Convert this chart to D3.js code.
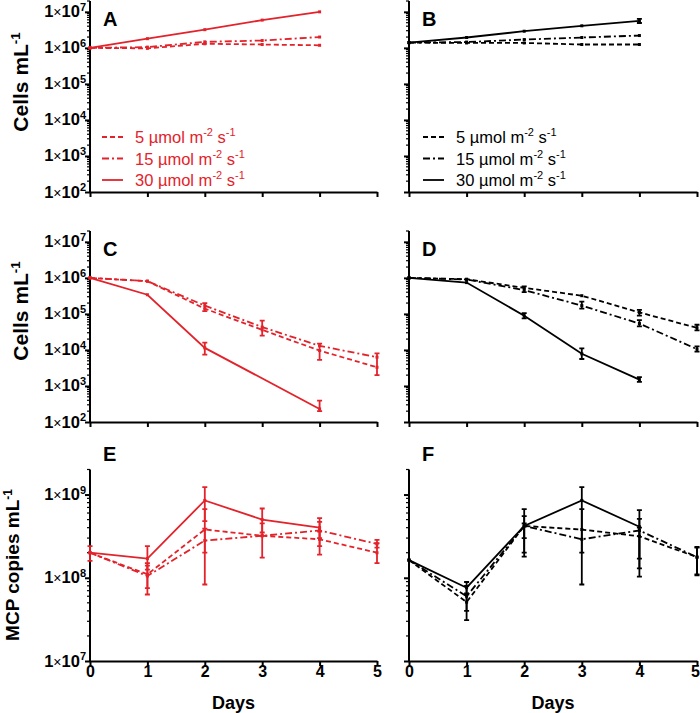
<!DOCTYPE html>
<html><head><meta charset="utf-8">
<script src="https://cdn.jsdelivr.net/npm/d3@7"></script>
<style>body{margin:0;background:#fff} svg{display:block;font-family:Arial,"Liberation Sans",sans-serif}</style>
</head><body><svg id="c" width="700" height="713"></svg>
<script>
const days = [0,1,2,3,4,5];
const dayLabels = ["0","1","2","3","4","5"];
const lightLevels = ["5","15","30"];
const cellTicks = [1e2,1e3,1e4,1e5,1e6,1e7];
const mcpTicks = [1e7,1e8,1e9];
const RED = "#e3232b", BLACK = "#000";

// Panel A (cells, red)
const A5  = [1e6, 9.7e5, 1.3e6, 1.24e6, 1.18e6, null];
const A15 = [1e6, 1.05e6, 1.47e6, 1.6e6, 2e6, null];
const A30 = [1e6, 1.8e6, 3.2e6, 5.9e6, 1e7, null];
// Panel B (cells, black)
const B5  = [1.4e6, 1.37e6, 1.37e6, 1.24e6, 1.24e6, null];
const B15 = [1.4e6, 1.45e6, 1.7e6, 1.94e6, 2.2e6, null];
const B30 = [1.4e6, 1.94e6, 2.9e6, 4.1e6, 5.6e6, null];
const B30err = [null, null, null, null, [4.9e6, 6.4e6], null];
// Panel C (cells, red)
const C5  = [1e6, 8.1e5, 1.4e5, 3.6e4, 9.6e3, 3.3e3];
const C15 = [1e6, 8.1e5, 1.7e5, 4.3e4, 1.3e4, 6.3e3];
const C30 = [1e6, 3.4e5, 1.14e4, null, 2.3e2, null];
const C5err  = [null, null, null, [2.5e4, 6.5e4], [5.3e3, 1.5e4], [2e3, 8e3]];
const C15err = [null, null, [1.2e5, 2e5], null, null, null];
const C30err = [null, null, [7.4e3, 1.6e4], null, [2e2, 3.9e2], null];
// Panel D (cells, black)
const D5  = [1e6, 9.2e5, 5.3e5, 3.2e5, 1.1e5, 4.1e4];
const D15 = [1e6, 9e5, 4.6e5, 1.7e5, 5.4e4, 1.05e4];
const D30 = [1e6, 7.4e5, 8.9e4, 7.8e3, 1.5e3, null];
const D5err  = [null, null, null, null, [9e4, 1.3e5], [3.5e4, 5e4]];
const D15err = [null, null, [4e5, 5.8e5], [1.4e5, 2.2e5], [4.5e4, 6.7e4], [9e3, 1.25e4]];
const D30err = [null, null, [7.5e4, 1.05e5], [5.6e3, 1.1e4], [1.3e3, 1.75e3], null];
// Panel E (MCP, red)
const E5  = [2e8, 1.1e8, 3.8e8, 3.2e8, 2.9e8, 2e8];
const E15 = [2e8, 1.05e8, 2.8e8, 3.2e8, 3.7e8, 2.55e8];
const E30 = [2e8, 1.7e8, 8.5e8, 5e8, 4e8, null];
const E5err  = [null, [6.3e7, 1.5e8], [8.3e7, 6.7e8], [1.75e8, 4.5e8], [1.9e8, 3.6e8], [1.5e8, 2.6e8]];
const E15err = [null, [7.5e7, 1.4e8], [2e8, 3.9e8], null, [2.4e8, 4.7e8], [2.3e8, 2.85e8]];
const E30err = [[1.6e8, 2.4e8], [1.25e8, 2.4e8], [4.8e8, 1.23e9], [3.5e8, 6.8e8], [3e8, 5.2e8], null];
// Panel F (MCP, black)
const F5  = [1.63e8, 5.1e7, 4.2e8, 3.8e8, 3.15e8, 1.77e8];
const F15 = [1.63e8, 6e7, 4.2e8, 2.9e8, 3.7e8, 1.77e8];
const F30 = [1.63e8, 7.6e7, 4.2e8, 8.5e8, 4.1e8, null];
const F5err  = [null, [3.1e7, 6.3e7], [1.8e8, 5.5e8], [2e8, 6.7e8], [1.3e8, 4e8], [1.07e8, 2.35e8]];
const F15err = [null, [4e7, 8e7], [2e8, 4.5e8], null, [1.7e8, 5.1e8], [1.1e8, 2.3e8]];
const F30err = [null, [6.5e7, 8.9e7], [3e8, 6.7e8], [8.3e7, 1.23e9], [1.03e8, 6.5e8], null];

const svg = d3.select("#c");
const dashes = {"5": "5,3", "15": "7,3,2,3", "30": null};

function panel(opt) {
  const x = d3.scaleLinear().domain([0, 5]).range([opt.x0, opt.x1]);
  const y = d3.scaleLog().domain(opt.ydom).range([opt.yb, opt.yt]);
  const g = svg.append("g");

  // minor ticks
  const lo = Math.log10(opt.ydom[0]);
  const minors = [];
  for (let e = Math.floor(lo); e < 10; e++)
    for (let m = 2; m <= 9; m++) { const v = m * Math.pow(10, e); if (v > opt.ydom[0] && v <= opt.ydom[1]) minors.push(v); }
  g.selectAll(".mn").data(minors).join("line")
    .attr("x1", opt.x0 - 3).attr("x2", opt.x0).attr("y1", d => y(d)).attr("y2", d => y(d))
    .attr("stroke", "#000").attr("stroke-width", 1.2);

  // y axis
  const yAxis = d3.axisLeft(y).tickValues(opt.yticks).tickSize(5).tickFormat("");
  const ga = g.append("g").attr("transform", `translate(${opt.x0},0)`).call(yAxis);
  ga.select(".domain").attr("stroke-width", 2).attr("d", `M-0,${opt.yb}V${opt.yt}`);
  ga.selectAll(".tick line").attr("stroke-width", 2);

  // x axis
  const xAxis = d3.axisBottom(x).tickValues(days).tickSize(5).tickSizeOuter(0)
    .tickFormat(opt.xlabels ? (d, i) => dayLabels[i] : "");
  const gx = g.append("g").attr("transform", `translate(0,${opt.yb})`).call(xAxis);
  gx.select(".domain").attr("stroke-width", 2);
  gx.selectAll(".tick line").attr("stroke-width", 2);
  gx.selectAll(".tick text").attr("font-size", 16).attr("font-weight", "bold")
    .attr("font-family", "Arial,'Liberation Sans',sans-serif").attr("dy", "0.2em").attr("y", 13)
    .attr("dx", (d) => (opt.edge && d === 5) ? -2 : 0);

  // y tick labels
  if (opt.ylabels) {
    opt.yticks.forEach(v => {
      const e = Math.round(Math.log10(v));
      const t = g.append("text").attr("x", opt.x0 - 4).attr("y", y(v) + 5.5)
        .attr("text-anchor", "end").attr("font-weight", "bold").attr("font-size", 16.5);
      t.append("tspan").text("1");
      t.append("tspan").text("\u00d7").attr("font-weight", "normal").attr("font-size", 14);
      t.append("tspan").text("10");
      t.append("tspan").text(String(e)).attr("font-size", 11).attr("dy", -6.5);
    });
  }

  // data
  opt.series.forEach(s => {
    const pts = days.map((d, i) => ({d, v: s.vals[i], e: s.err ? s.err[i] : null})).filter(p => p.v != null);
    const eb = pts.filter(p => p.e);
    g.selectAll(null).data(eb).join("path")
      .attr("d", p => {
        const xx = x(p.d), y1 = y(p.e[0]), y2 = y(p.e[1]);
        return `M${xx},${y1}V${y2}M${xx-2.5},${y1}H${xx+2.5}M${xx-2.5},${y2}H${xx+2.5}`;
      })
      .attr("stroke", opt.color).attr("stroke-width", 1.8).attr("fill", "none");
    g.append("path").datum(pts)
      .attr("d", d3.line().x(p => x(p.d)).y(p => y(p.v)))
      .attr("fill", "none").attr("stroke", opt.color).attr("stroke-width", 1.8)
      .attr("stroke-dasharray", dashes[s.name]);
    g.selectAll(null).data(pts).join("rect")
      .attr("x", p => x(p.d) - 1.5).attr("y", p => y(p.v) - 1.5)
      .attr("width", 3).attr("height", 3).attr("fill", opt.color);
  });

  // letter
  svg.append("text").attr("x", opt.x0 + 13).attr("y", opt.letterY).text(opt.letter)
    .attr("font-weight", "bold").attr("font-size", 20);

  // legend
  if (opt.legend) {
    lightLevels.forEach((lv, i) => {
      const cy = opt.legend.y + i * 21.5;
      svg.append("line").attr("x1", opt.legend.x).attr("x2", opt.legend.x + 21)
        .attr("y1", cy).attr("y2", cy).attr("stroke", opt.color).attr("stroke-width", 1.8)
        .attr("stroke-dasharray", dashes[lv]);
      const t = svg.append("text").attr("x", opt.legend.x + 33).attr("y", cy + 6)
        .attr("font-size", 16.5).attr("fill", opt.color);
      t.append("tspan").text(lv + " \u00b5mol m");
      t.append("tspan").text("-2").attr("font-size", 11).attr("dy", -7);
      t.append("tspan").text(" s").attr("dy", 7);
      t.append("tspan").text("-1").attr("font-size", 11).attr("dy", -7);
    });
  }
}

const LX = [90, 377], RX = [409, 697];
const rowA = {ydom: [1e2, 2e7], yb: 192, yt: 1, yticks: cellTicks};
const rowC = {ydom: [1e2, 2e7], yb: 422, yt: 231, yticks: cellTicks};
const rowE = {ydom: [1e7, 2e9], yb: 661, yt: 469.5, yticks: mcpTicks};

panel({...rowA, x0: LX[0], x1: LX[1], color: RED, ylabels: true, letter: "A", letterY: 26,
  legend: {x: 102, y: 137},
  series: [{name: "5", vals: A5}, {name: "15", vals: A15}, {name: "30", vals: A30}]});
panel({...rowA, x0: RX[0], x1: RX[1], color: BLACK, letter: "B", letterY: 26,
  legend: {x: 423, y: 137},
  series: [{name: "5", vals: B5}, {name: "15", vals: B15}, {name: "30", vals: B30, err: B30err}]});
panel({...rowC, x0: LX[0], x1: LX[1], color: RED, ylabels: true, letter: "C", letterY: 256,
  series: [{name: "5", vals: C5, err: C5err}, {name: "15", vals: C15, err: C15err}, {name: "30", vals: C30, err: C30err}]});
panel({...rowC, x0: RX[0], x1: RX[1], color: BLACK, letter: "D", letterY: 256,
  series: [{name: "5", vals: D5, err: D5err}, {name: "15", vals: D15, err: D15err}, {name: "30", vals: D30, err: D30err}]});
panel({...rowE, x0: LX[0], x1: LX[1], color: RED, ylabels: true, xlabels: true, letter: "E", letterY: 461,
  series: [{name: "5", vals: E5, err: E5err}, {name: "15", vals: E15, err: E15err}, {name: "30", vals: E30, err: E30err}]});
panel({...rowE, x0: RX[0], x1: RX[1], color: BLACK, xlabels: true, edge: true, letter: "F", letterY: 461,
  series: [{name: "5", vals: F5, err: F5err}, {name: "15", vals: F15, err: F15err}, {name: "30", vals: F30, err: F30err}]});

// axis titles
function yTitle(cx, cy, main, fs) {
  const t = svg.append("text").attr("transform", `translate(${cx},${cy}) rotate(-90)`)
    .attr("text-anchor", "middle").attr("font-weight", "bold").attr("font-size", fs);
  t.append("tspan").text(main);
  t.append("tspan").text("-1").attr("font-size", fs * 0.63).attr("dy", -fs * 0.38);
}
yTitle(28, 82, "Cells mL", 21);
yTitle(28, 311, "Cells mL", 21);
yTitle(19, 565, "MCP copies mL", 19);
[LX, RX].forEach(r => svg.append("text").attr("x", (r[0] + r[1]) / 2).attr("y", 709)
  .attr("text-anchor", "middle").attr("font-weight", "bold").attr("font-size", 18).text("Days"));
</script></body></html>
